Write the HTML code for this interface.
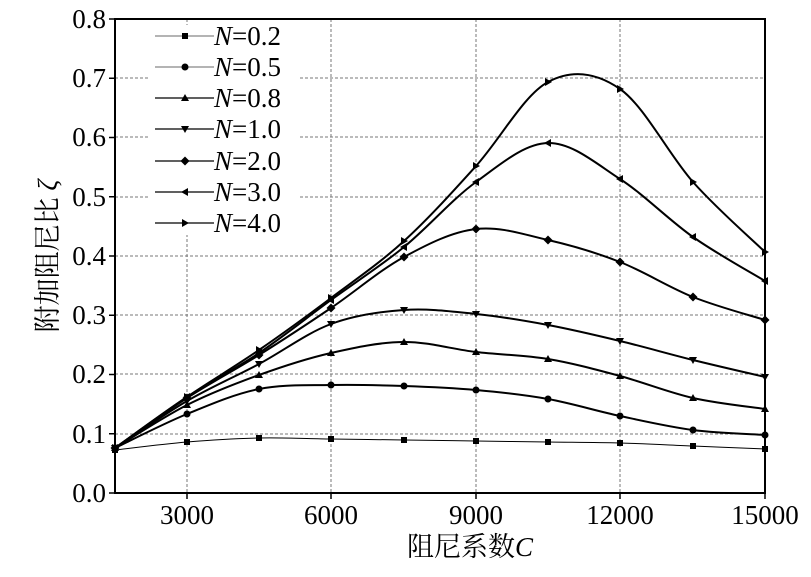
<!DOCTYPE html>
<html><head><meta charset="utf-8"><style>
body{margin:0;background:#fff}
text{font-family:"Liberation Serif","Noto Serif CJK SC",serif;fill:#000}
</style></head><body>
<svg id="s" width="811" height="572" xmlns="http://www.w3.org/2000/svg" font-family="'Liberation Serif', 'Noto Serif CJK SC', serif">
<g stroke="#777" stroke-width="1" stroke-dasharray="3,2">
<line x1="187" y1="19" x2="187" y2="493"/><line x1="331" y1="19" x2="331" y2="493"/>
<line x1="476" y1="19" x2="476" y2="493"/><line x1="620" y1="19" x2="620" y2="493"/>
<line x1="115" y1="434" x2="765" y2="434"/><line x1="115" y1="374" x2="765" y2="374"/>
<line x1="115" y1="315" x2="765" y2="315"/><line x1="115" y1="256" x2="765" y2="256"/>
<line x1="115" y1="197" x2="765" y2="197"/><line x1="115" y1="137" x2="765" y2="137"/>
<line x1="115" y1="78" x2="765" y2="78"/>
</g>
<rect x="150" y="25" width="150" height="210" fill="#fff"/>
<rect x="115" y="19" width="650" height="474" fill="none" stroke="#000" stroke-width="2"/>
<g id="ticks" stroke="#000" stroke-width="1.5"></g>
<g font-size="27" text-anchor="end">
<text x="106" y="502">0.0</text><text x="106" y="443">0.1</text><text x="106" y="383">0.2</text>
<text x="106" y="324">0.3</text><text x="106" y="265">0.4</text><text x="106" y="206">0.5</text>
<text x="106" y="146">0.6</text><text x="106" y="87">0.7</text><text x="106" y="28">0.8</text>
</g>
<g font-size="27" text-anchor="middle">
<text x="187" y="524">3000</text><text x="331" y="524">6000</text><text x="476" y="524">9000</text>
<text x="620" y="524">12000</text><text x="765" y="524">15000</text>
<text x="470" y="556">阻尼系数<tspan font-style="italic">C</tspan></text>
</g>
<text font-size="27" text-anchor="middle" transform="translate(57,256) rotate(-90)">附加阻尼比 <tspan font-style="italic">ζ</tspan></text>
<g id="series"></g>
<g id="legend" font-size="27"></g>
</svg>
<script>
var X=[115,187,259,331,404,476,548,620,693,765];
var D=[
[450,442,438,439,440,441,442,443,446,449],
[448,414,389,385,386,390,399,416,430,435],
[448,405,375,353,342,352,359,376,398,409],
[448,401,364,324,310,314,325,341,360,377],
[448,398,355,308,257,229,240,262,297,320],
[448,397,353,300,247,182,143,179,237,281],
[448,397,350,298,241,166,82,89,182,252]];
var labels=["0.2","0.5","0.8","1.0","2.0","3.0","4.0"];
var ns="http://www.w3.org/2000/svg";
function el(t,a,p){var e=document.createElementNS(ns,t);for(var k in a)e.setAttribute(k,a[k]);p.appendChild(e);return e;}
function marker(i,x,y,p){
 if(i==0)el("rect",{x:x-3,y:y-3,width:6,height:6},p);
 else if(i==1)el("circle",{cx:x,cy:y,r:3.5},p);
 else if(i==2)el("polygon",{points:(x)+","+(y-4)+" "+(x-4)+","+(y+3)+" "+(x+4)+","+(y+3)},p);
 else if(i==3)el("polygon",{points:(x)+","+(y+4)+" "+(x-4)+","+(y-3)+" "+(x+4)+","+(y-3)},p);
 else if(i==4)el("polygon",{points:(x)+","+(y-4.5)+" "+(x+4.5)+","+y+" "+x+","+(y+4.5)+" "+(x-4.5)+","+y},p);
 else if(i==5)el("polygon",{points:(x-4)+","+y+" "+(x+3)+","+(y-4)+" "+(x+3)+","+(y+4)},p);
 else el("polygon",{points:(x+4)+","+y+" "+(x-3)+","+(y-4)+" "+(x-3)+","+(y+4)},p);
}
var S=document.getElementById("series");
D.forEach(function(ys,i){
 var P=X.map(function(x,j){return [x,ys[j]];});
 var d="M"+P[0][0]+","+P[0][1];
 for(var j=0;j<P.length-1;j++){
  var p0=P[Math.max(j-1,0)],p1=P[j],p2=P[j+1],p3=P[Math.min(j+2,P.length-1)];
  var c1=[p1[0]+(p2[0]-p0[0])/6,p1[1]+(p2[1]-p0[1])/6],c2=[p2[0]-(p3[0]-p1[0])/6,p2[1]-(p3[1]-p1[1])/6];
  d+=" C"+c1+" "+c2+" "+p2;
 }
 el("path",{d:d,fill:"none",stroke:"#000","stroke-width":i==0?1:2},S);
 X.forEach(function(x,j){marker(i,x,ys[j],S);});
});
var L=document.getElementById("legend");
var ly=[36,67,98,129,161,192,223];
labels.forEach(function(t,i){
 el("line",{x1:155,y1:ly[i],x2:214,y2:ly[i],stroke:i<2?"#888":"#000","stroke-width":1.2},L);
 marker(i,185,ly[i],L);
 var tx=el("text",{x:214,y:ly[i]+9},L);
 tx.innerHTML='<tspan font-style="italic">N</tspan>=' + t;
});
var T=document.getElementById("ticks");
for(var k=0;k<=8;k++){var y=493-k*59.25;el("line",{x1:109,y1:y,x2:115,y2:y},T);}
[187,331,476,620,765].forEach(function(x){el("line",{x1:x,y1:493,x2:x,y2:499},T);});
</script>
</body></html>
